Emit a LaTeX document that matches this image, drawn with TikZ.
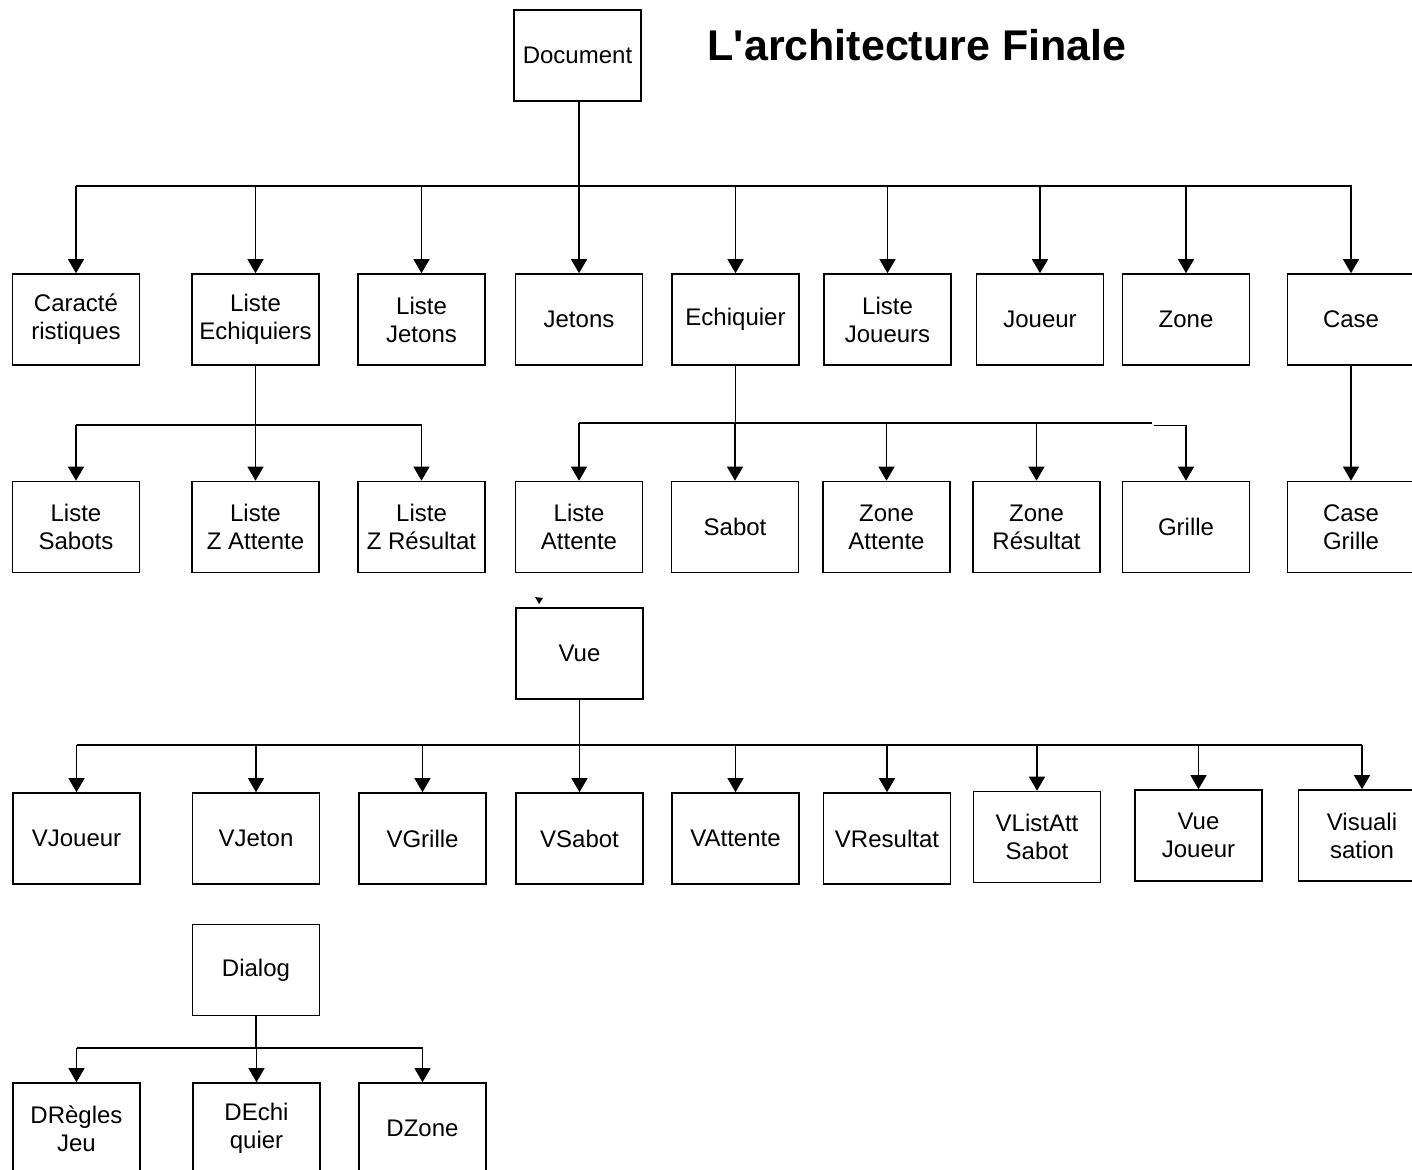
\documentclass[tikz,border=0pt]{standalone}
\usepackage{fontspec}
\setmainfont{Liberation Sans}
\newfontfamily\titlefont{Liberation Sans}
\usetikzlibrary{arrows.meta}
\begin{document}
\begin{tikzpicture}[x=0.5pt,y=-0.5pt,
  cls/.style={draw,line width=0.8pt,minimum width=63.5pt,minimum height=45.5pt,
    inner sep=0pt,align=center,font=\fontsize{12}{14}\selectfont},
  link/.style={line width=0.6pt},
  down/.style={line width=0.6pt,-{Triangle[width=8pt,length=7pt]}}]
\useasboundingbox (0,0) rectangle (1412,1170);
\clip (0,0) rectangle (1412,1170);

% title
\node[font=\titlefont\bfseries\fontsize{21.5}{24}\selectfont] (title) at (917,45) {L'architecture Finale};

% ---- document tree ----
\node[cls] (doc) at (577.5,55.5) {Document};

\node[cls] (car) at (76,319.5)    {Caracté\\ristiques};
\node[cls] (lec) at (255.5,319.5) {Liste\\Echiquiers};
\node[cls] (ljt) at (421.5,319.5) {Liste\\Jetons};
\node[cls] (jet) at (579,319.5)   {Jetons};
\node[cls] (ech) at (735.5,319.5) {Echiquier};
\node[cls] (ljo) at (887.5,319.5) {Liste\\Joueurs};
\node[cls] (jou) at (1040,319.5)  {Joueur};
\node[cls] (zon) at (1186,319.5)  {Zone};
\node[cls] (cas) at (1351,319.5)  {Case};

\node[cls] (lsa) at (76,527)     {Liste\\Sabots};
\node[cls] (lza) at (255.5,527)  {Liste\\Z Attente};
\node[cls] (lzr) at (421.5,527)  {Liste\\Z Résultat};
\node[cls] (lat) at (579,527)    {Liste\\Attente};
\node[cls] (sab) at (735,527)    {Sabot};
\node[cls] (zat) at (886.5,527)  {Zone\\Attente};
\node[cls] (zre) at (1036.5,527) {Zone\\Résultat};
\node[cls] (gri) at (1186,527)   {Grille};
\node[cls] (cgr) at (1351,527)   {Case\\Grille};

\coordinate (dbus) at (579,186);
\coordinate (dbusL) at (76,186);
\coordinate (dbusR) at (1352,186);
\draw[link] (doc.south -| dbus) -- (dbus);
\draw[link] (dbusL) -- (dbusR);
\foreach \n in {car,lec,ljt,jet,ech,ljo,jou,zon,cas}
  \draw[down] (\n.north |- dbus) -- (\n.north);

\coordinate (lbus) at (255.5,425);
\draw[link] (lec.south) -- (lbus);
\draw[link] (lsa.north |- lbus) -- (lzr.north |- lbus);
\foreach \n in {lsa,lza,lzr}
  \draw[down] (\n.north |- lbus) -- (\n.north);

\coordinate (ebus) at (735.5,423);
\coordinate (ebusEnd) at (1152,423);
\coordinate (ejog) at (1154,425.5);
\draw[link] (ech.south) -- (ebus);
\draw[link] (lat.north |- ebus) -- (ebusEnd);
\foreach \n in {lat,sab,zat,zre}
  \draw[down] (\n.north |- ebus) -- (\n.north);
\draw[down] (ejog) -| (gri.north);

\draw[down] (cas.south) -- (cgr.north);

% ---- view tree ----
\node[cls] (vue) at (579.5,653.5) {Vue};
\fill (535,597) -- (543,598) -- (539,604) -- cycle;

\node[cls] (vjo) at (76.5,838.5)  {VJoueur};
\node[cls] (vje) at (256,838.5)   {VJeton};
\node[cls] (vgr) at (422.5,838.5) {VGrille};
\node[cls] (vsa) at (579.5,838.5) {VSabot};
\node[cls] (vat) at (735.5,838.5) {VAttente};
\node[cls] (vre) at (887,838.5)   {VResultat};
\node[cls] (vla) at (1037,837)    {VListAtt\\Sabot};
\node[cls] (vvj) at (1198.5,835.5){Vue\\Joueur};
\node[cls] (vis) at (1362,835.5)  {Visuali\\sation};

\coordinate (vbus) at (579.5,745);
\draw[link] (vue.south) -- (vbus);
\draw[link] (vjo.north |- vbus) -- (vis.north |- vbus);
\foreach \n in {vjo,vje,vgr,vsa,vat,vre,vla,vvj,vis}
  \draw[down] (\n.north |- vbus) -- (\n.north);

% ---- dialog tree ----
\node[cls] (dia) at (256,970) {Dialog};

\node[cls] (drj) at (76.5,1128.5) {DRègles\\Jeu};
\node[cls] (dec) at (256.5,1128.5){DEchi\\quier};
\node[cls] (dzo) at (422.5,1128.5){DZone};

\coordinate (gbus) at (256,1048);
\draw[link] (dia.south) -- (gbus);
\draw[link] (drj.north |- gbus) -- (dzo.north |- gbus);
\foreach \n in {drj,dec,dzo}
  \draw[down] (\n.north |- gbus) -- (\n.north);
\end{tikzpicture}
\end{document}
